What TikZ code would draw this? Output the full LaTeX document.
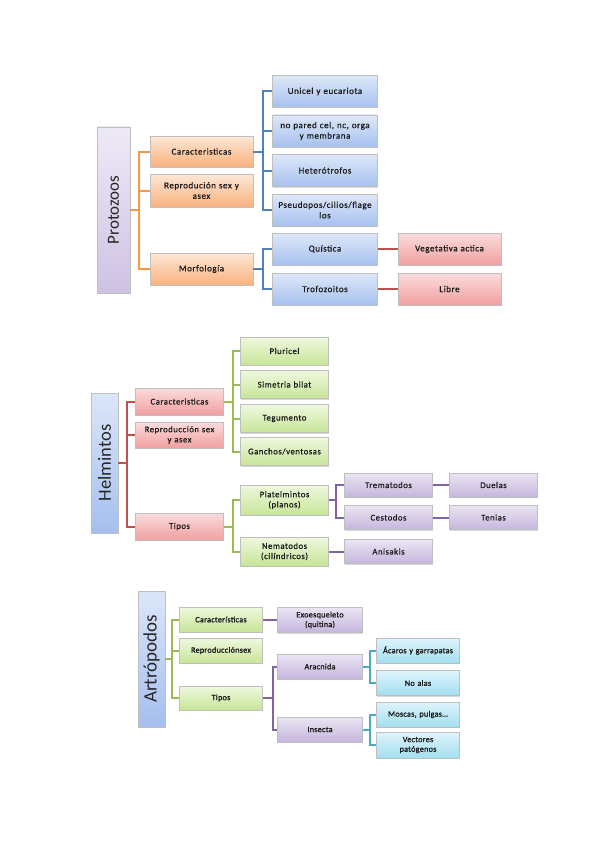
\documentclass[tikz,border=0pt]{standalone}
\usepackage{fontspec}
\setmainfont{Carlito}
\newfontfamily\boxfont[LetterSpace=6,FakeBold=0.6]{Carlito}
\newfontfamily\boxfontB[LetterSpace=3,FakeBold=1.2]{Carlito}
\usetikzlibrary{shadows}
\definecolor{cOr}{HTML}{F79646}
\definecolor{cBl}{HTML}{4F81BD}
\definecolor{cRd}{HTML}{C0504D}
\definecolor{cGr}{HTML}{9BBB59}
\definecolor{cPu}{HTML}{8064A2}
\definecolor{cCy}{HTML}{4BACC6}
\definecolor{orT}{HTML}{FDE7D5}\definecolor{orB}{HTML}{F9B27E}
\definecolor{blT}{HTML}{DEE8F9}\definecolor{blB}{HTML}{A6C1EE}
\definecolor{rdT}{HTML}{FBDCDC}\definecolor{rdB}{HTML}{F0A0A0}
\definecolor{grT}{HTML}{EFF8DE}\definecolor{grB}{HTML}{C7E598}
\definecolor{puT}{HTML}{EBE5F3}\definecolor{puB}{HTML}{C5B6DE}
\definecolor{cyT}{HTML}{DFF4FB}\definecolor{cyB}{HTML}{A3DEF0}
\definecolor{rpT}{HTML}{EEE9F6}\definecolor{rpB}{HTML}{CEC2E3}
\definecolor{rbT}{HTML}{DCE6F9}\definecolor{rbB}{HTML}{A4BFEE}
\tikzset{
  bx/.style={rectangle, draw=black!25, line width=0.4pt, align=center, inner sep=1pt,
    font=\boxfont\fontsize{9}{10.5}\selectfont, text=black!90,
    drop shadow={shadow xshift=0.7pt, shadow yshift=-1pt, opacity=0.3}},
  rootbx/.style={bx, font=\fontsize{17}{18}\selectfont, text=black!85},
  orbx/.style={bx, top color=orT, bottom color=orB},
  blbx/.style={bx, top color=blT, bottom color=blB},
  rdbx/.style={bx, top color=rdT, bottom color=rdB},
  grbx/.style={bx, top color=grT, bottom color=grB},
  pubx/.style={bx, top color=puT, bottom color=puB},
  cybx/.style={bx, top color=cyT, bottom color=cyB},
  conn/.style={line width=2pt},
}
\begin{document}
\begin{tikzpicture}[x=1pt,y=-1pt]
\useasboundingbox[fill=white] (0,0) rectangle (599,848);

% ---------------- Protozoos ----------------
\node[rootbx, top color=rpT, bottom color=rpB, minimum width=33pt, minimum height=166pt] (P) at (113.5,210) {\rotatebox{90}{Protozoos}};
\begin{scope}[every node/.append style={orbx, minimum width=103pt, text width=101pt}]
\node[minimum height=31pt] (Pc) at (201.5,151.5) {Caracteristicas};
\node[minimum height=33pt] (Pr) at (201.5,190.5) {Reprodución sex y\\asex};
\node[minimum height=32pt] (Pm) at (201.5,269) {Morfología};
\end{scope}
\begin{scope}[every node/.append style={blbx, minimum width=104pt, text width=103pt, minimum height=32pt}]
\node (b1) at (325,91.5) {Unicel y eucariota};
\node (b2) at (325,131) {no pared cel, nc, orga\\y membrana};
\node (b3) at (325,170.5) {Heterótrofos};
\node (b4) at (325,210) {Pseudopos/cilios/flage\\los};
\node (b5) at (325,249) {Quística};
\node (b6) at (325,289) {Trofozoitos};
\end{scope}
\begin{scope}[every node/.append style={rdbx, minimum width=103pt, text width=101pt, minimum height=32pt}]
\node (r1) at (449.5,249) {Vegetativa actica};
\node (r2) at (449.5,289) {Libre};
\end{scope}
\draw[conn, cOr] (P.east) -- +(9,0) |- (Pc.west);
\draw[conn, cOr] (P.east) -- +(9,0) |- (Pr.west);
\draw[conn, cOr] (P.east) -- +(9,0) |- (Pm.west);
\foreach \t in {b1,b2,b3,b4} \draw[conn, cBl] (Pc.east) -- +(10,0) |- (\t.west);
\foreach \t in {b5,b6} \draw[conn, cBl] (Pm.east) -- +(10,0) |- (\t.west);
\draw[conn, cRd] (b5.east) -- (r1.west);
\draw[conn, cRd] (b6.east) -- (r2.west);

% ---------------- Helmintos ----------------
\node[rootbx, top color=rbT, bottom color=rbB, minimum width=27pt, minimum height=140pt, font=\fontsize{18.5}{19.5}\selectfont] (H) at (104.5,463) {\rotatebox{90}{Helmintos}};
\begin{scope}[every node/.append style={rdbx, minimum width=87pt, text width=86pt, font=\boxfont\fontsize{8.7}{10.2}\selectfont}]
\node[minimum height=27pt] (Hc) at (179.5,401.5) {Caracteristicas};
\node[minimum height=26pt] (Hr) at (179.5,435) {Reproducción sex\\y asex};
\node[minimum height=27pt] (Ht) at (179.5,526.5) {Tipos};
\end{scope}
\begin{scope}[every node/.append style={grbx, minimum width=87pt, text width=86pt, minimum height=28pt, font=\boxfont\fontsize{8.7}{10.2}\selectfont}]
\node (g1) at (284.5,351) {Pluricel};
\node (g2) at (284.5,384.5) {Simetria bilat};
\node (g3) at (284.5,418.5) {Tegumento};
\node (g4) at (284.5,451.5) {Ganchos/ventosas};
\node[minimum height=30pt] (g5) at (284.5,500) {Platelmintos\\(planos)};
\node[minimum height=29pt] (g6) at (284.5,551.5) {Nematodos\\(cilíndricos)};
\end{scope}
\begin{scope}[every node/.append style={pubx, minimum width=87pt, text width=86pt, minimum height=24pt, font=\boxfont\fontsize{8.7}{10.2}\selectfont}]
\node (t1) at (388.5,485) {Trematodos};
\node (t2) at (388.5,517.5) {Cestodos};
\node (t3) at (388.5,551.5) {Anisakis};
\node (d1) at (493.5,485) {Duelas};
\node (d2) at (493.5,517.5) {Tenias};
\end{scope}
\draw[conn, cRd] (H.east) -- +(9,0) |- (Hc.west);
\draw[conn, cRd] (H.east) -- +(9,0) |- (Hr.west);
\draw[conn, cRd] (H.east) -- +(9,0) |- (Ht.west);
\foreach \t in {g1,g2,g3,g4} \draw[conn, cGr] (Hc.east) -- +(9,0) |- (\t.west);
\foreach \t in {g5,g6} \draw[conn, cGr] (Ht.east) -- +(9,0) |- (\t.west);
\foreach \t in {t1,t2} \draw[conn, cPu] (g5.east) -- +(7,0) |- (\t.west);
\draw[conn, cPu] (g6.east) -- (t3.west);
\draw[conn, cPu] (t1.east) -- (d1.west);
\draw[conn, cPu] (t2.east) -- (d2.west);

% ---------------- Artropodos ----------------
\node[rootbx, top color=rbT, bottom color=rbB, minimum width=27pt, minimum height=136pt, font=\fontsize{19}{20}\selectfont] (A) at (151.5,659) {\rotatebox{90}{Artrópodos}};
\begin{scope}[every node/.append style={grbx, minimum width=82pt, text width=81pt, minimum height=25pt, font=\boxfontB\fontsize{8.2}{9.6}\selectfont}]
\node (Ac) at (221,619.5) {Características};
\node (Ar) at (221,650.5) {Reproducciónsex};
\node[minimum height=24pt] (At) at (221,698) {Tipos};
\end{scope}
\begin{scope}[every node/.append style={pubx, minimum width=84pt, text width=83pt, minimum height=25pt, font=\boxfontB\fontsize{8.2}{9.6}\selectfont}]
\node (e1) at (320,620) {Exoesqueleto\\(quitina)};
\node (e2) at (320,666.5) {Aracnida};
\node (e3) at (320,729.5) {Insecta};
\end{scope}
\begin{scope}[every node/.append style={cybx, minimum width=82pt, text width=81pt, minimum height=25pt, font=\boxfontB\fontsize{8.2}{9.6}\selectfont}]
\node (c1) at (418,650.5) {Ácaros y garrapatas};
\node (c2) at (418,683) {No alas};
\node (c3) at (418,714.5) {Moscas, pulgas…};
\node[minimum height=26pt] (c4) at (418,745) {Vectores\\patógenos};
\end{scope}
\draw[conn, cGr] (A.east) -- +(7,0) |- (Ac.west);
\draw[conn, cGr] (A.east) -- +(7,0) |- (Ar.west);
\draw[conn, cGr] (A.east) -- +(7,0) |- (At.west);
\draw[conn, cPu] (Ac.east) -- (e1.west |- Ac.east);
\foreach \t in {e2,e3} \draw[conn, cPu] (At.east) -- +(10,0) |- (\t.west);
\foreach \t in {c1,c2} \draw[conn, cCy] (e2.east) -- +(7,0) |- (\t.west);
\foreach \t in {c3,c4} \draw[conn, cCy] (e3.east) -- +(7,0) |- (\t.west);
\end{tikzpicture}
\end{document}
